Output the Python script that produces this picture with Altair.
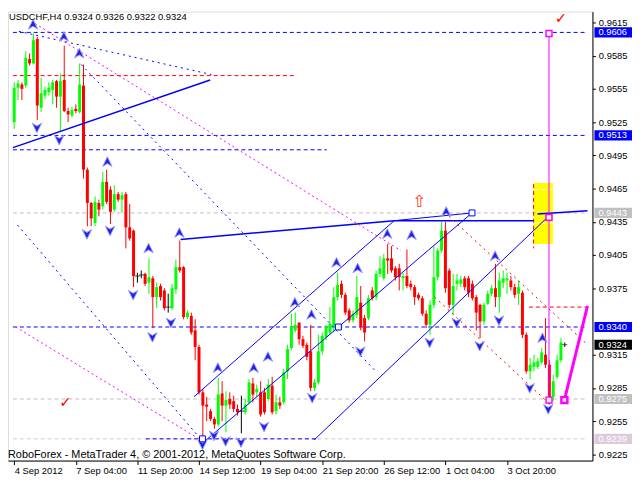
import altair as alt
import pandas as pd
import numpy as np

# ---------------- data ----------------
opens = [0.9525,0.9556,0.9559,0.9558,0.9582,0.9578,0.9600,0.9538,0.9549,0.9552,
         0.9554,0.9562,0.9548,0.9563,0.9535,0.9531,0.9537,0.9534,0.9558,0.9482,
         0.9452,0.9434,0.9452,0.9449,0.9471,0.9464,0.9446,0.9460,0.9455,0.9460,
         0.9430,0.9427,0.9386,0.9387,0.9388,0.9380,0.9384,0.9367,0.9377,0.9373,
         0.9358,0.9357,0.9374,0.9394,0.9394,0.9349,0.9350,0.9337,0.9322,0.9281,
         0.9270,0.9264,0.9257,0.9252,0.9280,0.9269,0.9275,0.9273,0.9266,0.9264,
         0.9263,0.9272,0.9289,0.9281,0.9281,0.9281,0.9275,0.9287,0.9264,0.9272,
         0.9272,0.9300,0.9321,0.9337,0.9344,0.9329,0.9324,0.9318,0.9285,0.9290,
         0.9318,0.9331,0.9335,0.9339,0.9367,0.9379,0.9369,0.9355,0.9346,0.9351,
         0.9362,0.9348,0.9348,0.9373,0.9367,0.9388,0.9384,0.9402,0.9402,0.9393,
         0.9393,0.9384,0.9386,0.9379,0.9376,0.9369,0.9366,0.9352,0.9342,0.9360,
         0.9385,0.9409,0.9427,0.9391,0.9360,0.9379,0.9379,0.9384,0.9384,0.9379,
         0.9367,0.9360,0.9345,0.9361,0.9370,0.9375,0.9367,0.9380,0.9382,0.9382,
         0.9376,0.9370,0.9371,0.9333,0.9300,0.9304,0.9304,0.9308,0.9315,0.9306,
         0.9277,0.9295,0.9310,0.9324]
highs = [0.9561,0.9563,0.9561,0.9589,0.9587,0.9605,0.9602,0.9565,0.9557,0.9561,
         0.9563,0.9563,0.9569,0.9594,0.9538,0.9539,0.9541,0.9578,0.9577,0.9484,
         0.9453,0.9458,0.9455,0.9480,0.9482,0.9467,0.9468,0.9462,0.9462,0.9462,
         0.9451,0.9428,0.9389,0.9391,0.9389,0.9402,0.9386,0.9380,0.9379,0.9375,
         0.9370,0.9379,0.9401,0.9418,0.9395,0.9355,0.9353,0.9347,0.9324,0.9284,
         0.9277,0.9266,0.9259,0.9294,0.9291,0.9282,0.9281,0.9278,0.9270,0.9278,
         0.9275,0.9293,0.9294,0.9288,0.9291,0.9285,0.9293,0.9295,0.9279,0.9277,
         0.9302,0.9324,0.9352,0.9353,0.9344,0.9332,0.9326,0.9342,0.9293,0.9333,
         0.9335,0.9342,0.9358,0.9376,0.9389,0.9382,0.9371,0.9357,0.9355,0.9386,
         0.9377,0.9351,0.9369,0.9376,0.9391,0.9404,0.9406,0.9415,0.9413,0.9395,
         0.9397,0.9389,0.9410,0.9382,0.9378,0.9371,0.9368,0.9355,0.9364,0.9413,
         0.9411,0.9435,0.9435,0.9393,0.9388,0.9388,0.9386,0.9386,0.9386,0.9382,
         0.9369,0.9361,0.9362,0.9373,0.9378,0.9397,0.9389,0.9391,0.9389,0.9386,
         0.9379,0.9382,0.9373,0.9335,0.9312,0.9315,0.9312,0.9321,0.9348,0.9310,
         0.9297,0.9315,0.9330,0.9326]
lows = [0.9519,0.9545,0.9545,0.9556,0.9576,0.9577,0.9527,0.9534,0.9546,0.9549,
        0.9541,0.9538,0.9516,0.9534,0.9525,0.9529,0.9533,0.9533,0.9474,0.9431,
        0.9431,0.9431,0.9440,0.9446,0.9451,0.9433,0.9444,0.9453,0.9443,0.9411,
        0.9418,0.9376,0.9380,0.9384,0.9377,0.9370,0.9339,0.9357,0.9364,0.9355,
        0.9353,0.9355,0.9370,0.9389,0.9347,0.9347,0.9333,0.9310,0.9279,0.9239,
        0.9255,0.9255,0.9248,0.9250,0.9255,0.9245,0.9266,0.9263,0.9260,0.9244,
        0.9261,0.9270,0.9272,0.9277,0.9259,0.9261,0.9273,0.9261,0.9261,0.9266,
        0.9270,0.9293,0.9319,0.9335,0.9324,0.9321,0.9310,0.9282,0.9282,0.9288,
        0.9315,0.9328,0.9333,0.9335,0.9364,0.9366,0.9351,0.9344,0.9344,0.9348,
        0.9337,0.9327,0.9346,0.9364,0.9364,0.9385,0.9382,0.9388,0.9389,0.9382,
        0.9373,0.9373,0.9375,0.9373,0.9360,0.9364,0.9350,0.9339,0.9333,0.9357,
        0.9382,0.9407,0.9371,0.9357,0.9351,0.9373,0.9376,0.9373,0.9367,0.9364,
        0.9337,0.9330,0.9342,0.9360,0.9368,0.9358,0.9353,0.9375,0.9370,0.9373,
        0.9366,0.9360,0.9330,0.9298,0.9293,0.9300,0.9302,0.9306,0.9303,0.9270,
        0.9273,0.9293,0.9308,0.9322]
closes = [0.9556,0.9560,0.9555,0.9583,0.9578,0.9599,0.9540,0.9551,0.9554,0.9556,
          0.9561,0.9548,0.9562,0.9535,0.9532,0.9536,0.9535,0.9559,0.9482,0.9452,
          0.9438,0.9453,0.9446,0.9471,0.9453,0.9444,0.9460,0.9455,0.9459,0.9430,
          0.9420,0.9386,0.9386,0.9387,0.9379,0.9385,0.9367,0.9376,0.9367,0.9357,
          0.9358,0.9375,0.9394,0.9391,0.9349,0.9353,0.9335,0.9322,0.9281,0.9269,
          0.9268,0.9257,0.9252,0.9279,0.9269,0.9274,0.9270,0.9266,0.9263,0.9264,
          0.9270,0.9290,0.9279,0.9284,0.9261,0.9263,0.9288,0.9263,0.9272,0.9269,
          0.9299,0.9320,0.9340,0.9342,0.9329,0.9323,0.9313,0.9285,0.9290,0.9318,
          0.9332,0.9340,0.9343,0.9367,0.9378,0.9369,0.9353,0.9346,0.9352,0.9367,
          0.9340,0.9335,0.9366,0.9366,0.9388,0.9393,0.9402,0.9400,0.9391,0.9385,
          0.9385,0.9386,0.9377,0.9376,0.9367,0.9366,0.9352,0.9342,0.9360,0.9385,
          0.9409,0.9427,0.9375,0.9360,0.9377,0.9382,0.9383,0.9376,0.9371,0.9366,
          0.9353,0.9345,0.9360,0.9370,0.9375,0.9367,0.9382,0.9384,0.9384,0.9376,
          0.9369,0.9376,0.9333,0.9300,0.9306,0.9308,0.9309,0.9317,0.9306,0.9275,
          0.9291,0.9310,0.9326,0.9324]

x_tick_bars = [0, 16, 32, 48, 64, 80, 96, 112, 128]
x_tick_labels = ["4 Sep 2012", "7 Sep 04:00", "11 Sep 20:00", "14 Sep 12:00",
                 "19 Sep 04:00", "21 Sep 20:00", "26 Sep 12:00", "1 Oct 04:00",
                 "3 Oct 20:00"]
# 0.9345 sits under the 0.9340 price box in the reference and is not visible there
y_ticks = [0.9225, 0.9255, 0.9285, 0.9315, 0.9375, 0.9405, 0.9435,
           0.9465, 0.9495, 0.9525, 0.9555, 0.9585, 0.9615]

level_prices = [0.9606, 0.9513, 0.9443, 0.9340, 0.9324, 0.9275, 0.9239]
level_colors = ["#0000ff", "#0000ff", "#c0c0c0", "#0000ff", "#000000", "#c0c0c0", "#dccbdc"]

up_bar = [4.9, 12.9, 16.9, 24.2, 34.9, 42.9, 52.9, 62.2, 65.9, 72.9, 77.2,
          83.7, 89.2, 96.9, 103.2, 112.2, 124.9, 137.2]
up_price = [0.9613, 0.9602, 0.9587, 0.9489, 0.9411, 0.9425, 0.9303, 0.9303, 0.9313,
            0.9362, 0.9351, 0.9398, 0.9393, 0.9424, 0.9423, 0.9444, 0.9404, 0.9330]
dn_bar = [5.9, 11.7, 18.9, 24.9, 30.9, 35.9, 40.7, 48.9, 51.9, 54.9, 58.9, 64.9,
          77.4, 89.9, 107.9, 114.9, 120.9, 125.9, 133.9, 138.7]
dn_price = [0.9520, 0.9509, 0.9424, 0.9427, 0.9369, 0.9331, 0.9344, 0.9234, 0.9242,
            0.9237, 0.9236, 0.9250, 0.9276, 0.9318, 0.9326, 0.9344, 0.9323, 0.9346,
            0.9285, 0.9266]

# drawn objects: (style, bar1, price1, bar2, price2)
segments = [
    ("gray_dash", -0.325, 0.9443, 148.9, 0.9443),
    ("gray_dash", -0.325, 0.9275, 148.9, 0.9275),
    ("lav_dash", -0.325, 0.9239, 148.9, 0.9239),
    ("blue_dash", -0.325, 0.9606, 148.9, 0.9606),
    ("blue_dash", -0.325, 0.9513, 148.9, 0.9513),
    ("blue_dash", -0.325, 0.9500, 81.2, 0.9500),
    ("blue_dash", -0.325, 0.9340, 148.9, 0.9340),
    ("blue_dash", 34.2, 0.9239, 79.2, 0.9239),
    ("red_dash", -0.325, 0.9567, 73.2, 0.9567),
    ("red_dash", 133.7, 0.9358, 148.9, 0.9358),
    ("red_dash", 134.9, 0.9469, 134.9, 0.9411),
    ("white_dash", 135.2, 0.9464, 139.9, 0.9464),
    ("white_dash", 135.2, 0.9434, 139.9, 0.9434),
    ("blue_dot", 1.2, 0.9607, 51.2, 0.9568),
    ("blue_dot", 0.9, 0.9432, 48.4, 0.9239),
    ("blue_dot", 17.4, 0.9577, 94.2, 0.9299),
    ("blue_solid2", -0.325, 0.9502, 50.9, 0.9563),
    ("blue_solid2", 43.2, 0.9419, 98.7, 0.9436),
    ("blue_solid2", 98.7, 0.9436, 134.9, 0.9436),
    ("blue_solid", 98.7, 0.9436, 118.9, 0.9443),
    ("blue_solid2", 135.9, 0.9442, 148.9, 0.9445),
    ("blue_solid", 46.7, 0.9277, 98.7, 0.9436),
    ("blue_solid", 49.2, 0.9236, 118.9, 0.9443),
    ("blue_solid", 77.9, 0.9238, 138.2, 0.9438),
    ("magenta_dot", 5.4, 0.9614, 100.4, 0.9409),
    ("magenta_dot", 0.4, 0.9340, 48.9, 0.9237),
    ("red_dot", 112.9, 0.9440, 148.9, 0.9324),
    ("red_dot", 109.2, 0.9367, 139.2, 0.9270),
    ("magenta_solid", 138.9, 0.9605, 138.9, 0.9275),
    ("magenta_thick", 142.9, 0.9274, 148.9, 0.9359),
]
styles = {
    "gray_dash": ("#c0c0c0", [4, 3], 1),
    "lav_dash": ("#d8c4d8", [4, 3], 1),
    "blue_dash": ("#0000ff", [4, 3], 1),
    "red_dash": ("#ff0000", [4, 3], 1),
    "white_dash": ("#ffffff", [4, 3], 1),
    "blue_dot": ("#0000ff", [2, 4], 1),
    "blue_solid": ("#0000ff", None, 1),
    "blue_solid2": ("#0000ff", None, 1.5),
    "magenta_dot": ("#ff00ff", [2, 3], 1),
    "red_dot": ("#ff0000", [2, 4], 1),
    "magenta_solid": ("#ff00ff", None, 1),
    "magenta_thick": ("#ff00ff", None, 3),
}

squares_bar = [48.9, 84.2, 118.9, 138.9, 138.9, 138.9, 142.9]
squares_price = [0.9239, 0.9340, 0.9443, 0.9605, 0.9439, 0.9274, 0.9274]
squares_color = ["#0000ff", "#0000ff", "#0000ff", "#ff00ff", "#ff00ff", "#ff00ff", "#ff00ff"]
squares_width = [1, 1, 1, 1.5, 1.5, 1.5, 2.5]

yellow_box = {"b1": 134.9, "b2": 139.9, "p1": 0.9470, "p2": 0.9415}
checks_bar = [142.0, 13.3]
checks_price = [0.9619, 0.9272]
up_hollow = {"b": 105.2, "p": 0.9453}

title_text = "USDCHF,H4  0.9324 0.9326 0.9322 0.9324"
copyright_text = "RoboForex - MetaTrader 4, \u00a9 2001-2012, MetaQuotes Software Corp."

# ---------------- chart ----------------
W, H = 591, 454
XDOM = [-0.325, 148.9]
YDOM = [0.92194, 0.96248]
FN = "Liberation Sans, Arial, sans-serif"
FS = 9.5

xs = alt.Scale(domain=XDOM, nice=False, zero=False)
ys = alt.Scale(domain=YDOM, nice=False, zero=False)

label_expr = " : ".join(f"datum.value == {b} ? '{t}'" for b, t in zip(x_tick_bars, x_tick_labels)) + " : ''"

x_axis = alt.Axis(values=x_tick_bars, labelExpr=label_expr, labelAlign="left",
                  labelBaseline="top", tickSize=4, tickColor="black", domainColor="black",
                  labelColor="black", labelFont=FN, labelFontSize=FS, labelPadding=1,
                  labelOverlap=False, labelFlush=False, grid=False, title=None,
                  labelBound=False, zindex=0)
y_axis = alt.Axis(orient="right", values=y_ticks, format=".4f", tickSize=3, tickColor="black",
                  domainColor="black", labelColor="black", labelFont=FN, labelFontSize=FS,
                  labelPadding=3, labelOverlap=False, labelFlush=False, grid=False,
                  title=None, zindex=0)


def X(f):
    return alt.X(f, type="quantitative", scale=xs, axis=x_axis)


def Y(f):
    return alt.Y(f, type="quantitative", scale=ys, axis=y_axis)


o = np.array(opens); c = np.array(closes)
df = pd.DataFrame({"i": np.arange(len(opens)), "open": opens, "high": highs,
                   "low": lows, "close": closes})
df["dir"] = np.where(c > o, "up", np.where(c < o, "down", "doji"))
ccol = alt.Color("dir:N", scale=alt.Scale(domain=["up", "down", "doji"],
                 range=["#00ff00", "#ff0000", "#000000"]), legend=None)

base = alt.Chart(df)

yb = alt.Chart(pd.DataFrame([yellow_box])).mark_rect(color="#ffff00").encode(
    x=X("b1"), x2="b2", y=Y("p1"), y2="p2")

seg_df = pd.DataFrame(segments, columns=["style", "b1", "p1", "b2", "p2"])
layers = [yb]

bg_styles = ["gray_dash", "lav_dash", "blue_dash", "red_dash"]


def seg_layer(st):
    col, dash, sw = styles[st]
    kw = dict(color=col, strokeWidth=sw)
    if dash:
        kw["strokeDash"] = dash
    return alt.Chart(seg_df[seg_df["style"] == st]).mark_rule(**kw).encode(
        x=X("b1"), x2="b2", y=Y("p1"), y2="p2")


for st in bg_styles:
    layers.append(seg_layer(st))

wick = base.mark_rule(strokeWidth=1).encode(x=X("i"), y=Y("low"), y2="high", color=ccol)
body = base.transform_filter("datum.dir != 'doji'").mark_bar(size=3).encode(
    x=X("i"), y=Y("open"), y2="close", color=ccol)
doji = base.transform_filter("datum.dir == 'doji'").mark_tick(
    orient="horizontal", size=5, thickness=1, color="black").encode(x=X("i"), y=Y("open"))
layers += [wick, body, doji]

for st in styles:
    if st not in bg_styles:
        layers.append(seg_layer(st))

UP = "M0,-1L0.9,0.85L0,0.3L-0.9,0.85Z"
DN = "M0,1L0.9,-0.85L0,-0.3L-0.9,-0.85Z"
ups = alt.Chart(pd.DataFrame({"b": up_bar, "p": up_price})).mark_point(
    shape=UP, size=110, filled=True, fill="#2020e8", stroke="#9a9aff", strokeWidth=1,
    opacity=1).encode(x=X("b"), y=Y("p"))
dns = alt.Chart(pd.DataFrame({"b": dn_bar, "p": dn_price})).mark_point(
    shape=DN, size=110, filled=True, fill="#2020e8", stroke="#9a9aff", strokeWidth=1,
    opacity=1).encode(x=X("b"), y=Y("p"))
layers += [ups, dns]

sq_df = pd.DataFrame({"b": squares_bar, "p": squares_price, "col": squares_color,
                      "w": squares_width})
sq = alt.Chart(sq_df).mark_point(shape="square", size=36, filled=False, fill="white",
                                 opacity=1).encode(
    x=X("b"), y=Y("p"),
    stroke=alt.Stroke("col:N", scale=None),
    strokeWidth=alt.StrokeWidth("w:Q", scale=None))
layers.append(sq)

chk = alt.Chart(pd.DataFrame({"b": checks_bar, "p": checks_price})).mark_text(
    text="\u2713", color="#ff0000", fontSize=15, fontWeight="bold", font="DejaVu Sans",
    baseline="middle").encode(x=X("b"), y=Y("p"))
uh = alt.Chart(pd.DataFrame([up_hollow])).mark_text(
    text="\u21e7", color="#ff4020", fontSize=17, font="DejaVu Sans", baseline="middle").encode(
    x=X("b"), y=Y("p"))
layers += [chk, uh]

one = pd.DataFrame({"t": [0]})
ttl = alt.Chart(one).mark_text(text=title_text, align="left", baseline="top", font=FN,
                               fontSize=FS, color="black").encode(x=alt.value(1), y=alt.value(1))
cpy = alt.Chart(one).mark_text(text=copyright_text, align="left", baseline="middle",
                               font=FN, fontSize=11,
                               color="black").encode(x=alt.value(0), y=alt.value(H - 6))
layers += [ttl, cpy]

lv = pd.DataFrame({"p": level_prices, "bg": level_colors})
lv["lo"] = lv["p"] - 0.00046
lv["hi"] = lv["p"] + 0.00046
lv["txt"] = lv["p"].map(lambda v: f"{v:.4f}")
lbox = alt.Chart(lv).mark_rect().encode(
    x=alt.value(W + 2), x2=alt.value(W + 40),
    y=Y("lo"), y2="hi",
    color=alt.Color("bg:N", scale=None))
ltxt = alt.Chart(lv).mark_text(align="left", baseline="middle", font=FN, fontSize=FS,
                               color="white").encode(
    x=alt.value(W + 6), y=Y("p"), text="txt:N")
layers += [lbox, ltxt]

chart = alt.layer(*layers).properties(
    width=W, height=H, padding={"left": 0, "top": 0, "right": 0, "bottom": 0}
).configure_view(stroke="black", strokeWidth=1).configure(background="white")

chart.save("out.html", embed_options={"renderer": "svg", "actions": False})
